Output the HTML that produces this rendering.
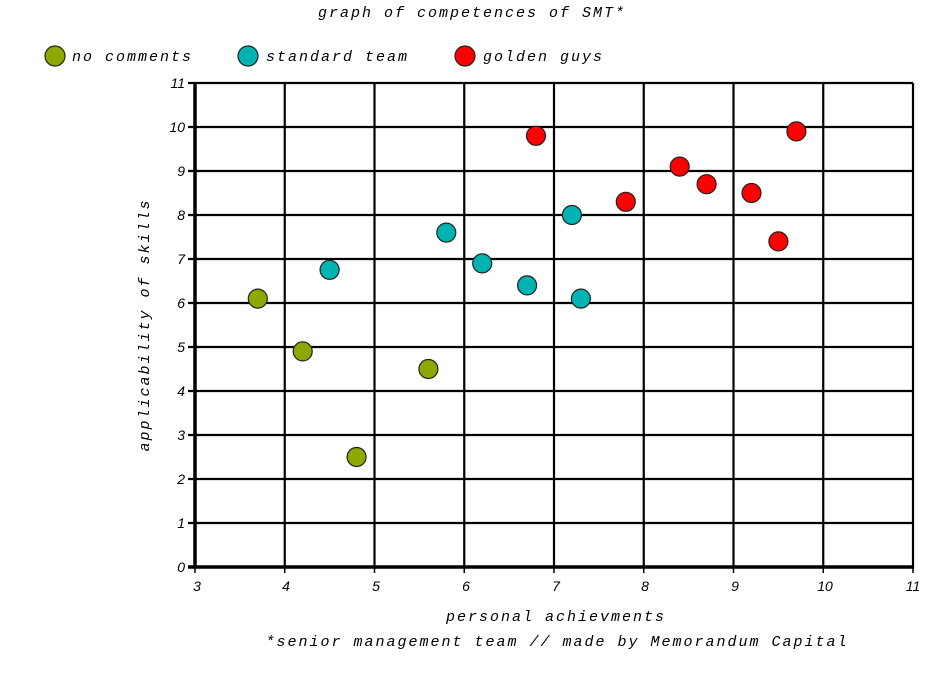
<!DOCTYPE html>
<html><head><meta charset="utf-8"><style>
html,body{margin:0;padding:0;background:#fff;}
.m{font-family:"Liberation Mono",monospace;font-style:italic;font-size:15px;fill:#000;letter-spacing:2px;}
.t{font-family:"Liberation Sans",sans-serif;font-style:italic;font-size:14px;fill:#000;}
</style></head><body>
<svg width="939" height="691" xmlns="http://www.w3.org/2000/svg">
<rect width="939" height="691" fill="#fff"/>
<text class="m" x="472" y="17" text-anchor="middle">graph of competences of SMT*</text>
<g stroke="#222" stroke-width="1.2">
<circle cx="55" cy="56" r="10" fill="#8fa800"/>
<circle cx="248" cy="56" r="10" fill="#00b3b3"/>
<circle cx="465" cy="56" r="10" fill="#ff0000"/>
</g>
<text class="m" x="72" y="61">no comments</text>
<text class="m" x="266" y="61">standard team</text>
<text class="m" x="483" y="61">golden guys</text>
<g stroke="#000" stroke-width="2.2">
<line x1="284.75" y1="83" x2="284.75" y2="567"/>
<line x1="374.5" y1="83" x2="374.5" y2="567"/>
<line x1="464.25" y1="83" x2="464.25" y2="567"/>
<line x1="554" y1="83" x2="554" y2="567"/>
<line x1="643.75" y1="83" x2="643.75" y2="567"/>
<line x1="733.5" y1="83" x2="733.5" y2="567"/>
<line x1="823.25" y1="83" x2="823.25" y2="567"/>
<line x1="913" y1="83" x2="913" y2="567"/>
<line x1="195" y1="83" x2="913" y2="83"/>
<line x1="188" y1="127" x2="913" y2="127"/>
<line x1="188" y1="171" x2="913" y2="171"/>
<line x1="188" y1="215" x2="913" y2="215"/>
<line x1="188" y1="259" x2="913" y2="259"/>
<line x1="188" y1="303" x2="913" y2="303"/>
<line x1="188" y1="347" x2="913" y2="347"/>
<line x1="188" y1="391" x2="913" y2="391"/>
<line x1="188" y1="435" x2="913" y2="435"/>
<line x1="188" y1="479" x2="913" y2="479"/>
<line x1="188" y1="523" x2="913" y2="523"/>
<line x1="188" y1="83" x2="195" y2="83"/>
</g>
<g stroke="#000" stroke-width="3.5">
<line x1="195" y1="82" x2="195" y2="568"/>
<line x1="188" y1="567" x2="914" y2="567"/>
</g>
<g stroke="#000" stroke-width="1.5">
<line x1="195" y1="567" x2="195" y2="573"/><line x1="284.75" y1="567" x2="284.75" y2="573"/><line x1="374.5" y1="567" x2="374.5" y2="573"/><line x1="464.25" y1="567" x2="464.25" y2="573"/><line x1="554" y1="567" x2="554" y2="573"/><line x1="643.75" y1="567" x2="643.75" y2="573"/><line x1="733.5" y1="567" x2="733.5" y2="573"/><line x1="823.25" y1="567" x2="823.25" y2="573"/><line x1="913" y1="567" x2="913" y2="573"/>
</g>
<g class="t" text-anchor="end">
<text x="185" y="88">11</text><text x="185" y="132">10</text><text x="185" y="176">9</text><text x="185" y="220">8</text><text x="185" y="264">7</text><text x="185" y="308">6</text><text x="185" y="352">5</text><text x="185" y="396">4</text><text x="185" y="440">3</text><text x="185" y="484">2</text><text x="185" y="528">1</text><text x="185" y="572">0</text>
</g>
<g class="t" text-anchor="middle">
<text x="197" y="591">3</text><text x="286" y="591">4</text><text x="376" y="591">5</text><text x="466" y="591">6</text><text x="556" y="591">7</text><text x="645" y="591">8</text><text x="735" y="591">9</text><text x="825" y="591">10</text><text x="913" y="591">11</text>
</g>
<text class="m" x="556" y="621" text-anchor="middle">personal achievments</text>
<text class="m" x="557" y="646" text-anchor="middle">*senior management team // made by Memorandum Capital</text>
<text class="m" transform="translate(149,325) rotate(-90)" text-anchor="middle">applicability of skills</text>
<g stroke="#222" stroke-width="1.2">
<g fill="#8fa800">
<circle cx="257.8" cy="298.6" r="9.5"/><circle cx="302.7" cy="351.4" r="9.5"/><circle cx="356.6" cy="457" r="9.5"/><circle cx="428.4" cy="369" r="9.5"/>
</g>
<g fill="#00b3b3">
<circle cx="329.6" cy="269.8" r="9.5"/><circle cx="446.3" cy="232.6" r="9.5"/><circle cx="482.2" cy="263.4" r="9.5"/><circle cx="527.1" cy="285.4" r="9.5"/><circle cx="571.9" cy="215" r="9.5"/><circle cx="580.9" cy="298.6" r="9.5"/>
</g>
<g fill="#ff0000">
<circle cx="536" cy="135.8" r="9.5"/><circle cx="625.8" cy="201.8" r="9.5"/><circle cx="679.7" cy="166.6" r="9.5"/><circle cx="706.6" cy="184.2" r="9.5"/><circle cx="751.5" cy="193" r="9.5"/><circle cx="778.4" cy="241.4" r="9.5"/><circle cx="796.4" cy="131.4" r="9.5"/>
</g>
</g>
</svg>
</body></html>
